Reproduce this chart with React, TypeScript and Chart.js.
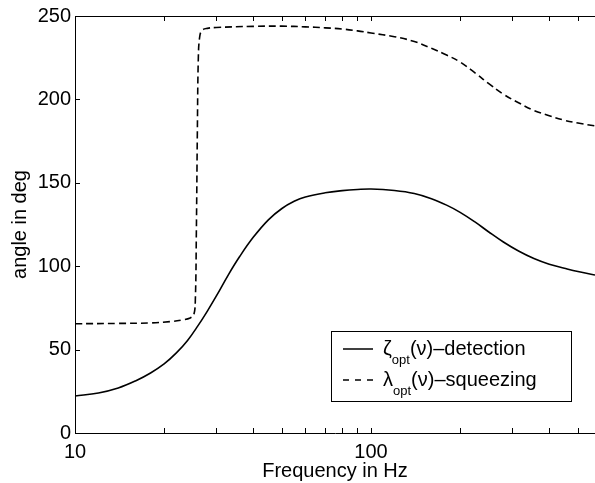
import React, { useEffect, useRef } from "react";
import { Chart, registerables } from "chart.js";

Chart.register(...registerables);

const FONT = "'Liberation Sans', Arial, Helvetica, sans-serif";

const xTickValues = [10, 20, 30, 40, 50, 60, 70, 80, 90, 100, 200, 300, 400, 500];
const xLabeledTicks = [10, 100];
const yTickValues = [0, 50, 100, 150, 200, 250];

const detectionFreq = [10, 12, 14, 16, 18, 20, 22, 24, 26, 28, 30, 33, 36, 40, 45, 50, 55, 60, 70, 80, 90, 100, 120, 140, 160, 180, 200, 225, 250, 280, 315, 355, 400, 450, 500, 571];
const detectionAngle = [22.2, 24.0, 27.0, 31.2, 36.0, 41.4, 48.0, 55.5, 64.2, 73.1, 82.0, 95.0, 105.8, 117.3, 127.8, 134.6, 138.9, 141.5, 144.0, 145.3, 146.0, 146.3, 145.4, 143.6, 140.5, 136.6, 132.3, 126.4, 120.5, 114.5, 109.1, 104.6, 101.2, 98.8, 96.8, 94.7];

const squeezingFreq = [10, 14, 18, 21, 23, 24.5, 25.2, 25.5, 25.7, 25.9, 26.1, 26.4, 26.9, 28, 30, 40, 50, 60, 70, 80, 90, 100, 120, 140, 160, 180, 200, 225, 250, 280, 315, 355, 400, 450, 500, 571];
const squeezingAngle = [65.5, 65.7, 66, 66.8, 67.8, 69, 71, 80, 120, 180, 225, 238, 241.5, 242.6, 243.1, 243.8, 243.9, 243.5, 242.9, 242.2, 241.1, 239.8, 237.6, 234.7, 230.6, 226.6, 222.4, 215.8, 209.4, 203.1, 198.0, 193.4, 190.2, 187.5, 185.8, 184.1];

const legendLabels = [
  { symbol: "\u03B6", sub: "opt", rest: "(\u03BD)\u2013detection", dash: [] as number[] },
  { symbol: "\u03BB", sub: "opt", rest: "(\u03BD)\u2013squeezing", dash: [6, 6] },
];

const framePlugin = {
  id: "frameTicks",
  afterDraw(chart: any) {
    const { ctx, chartArea } = chart;
    const xs = chart.scales.x;
    const ys = chart.scales.y;
    ctx.save();
    ctx.strokeStyle = "#000";
    ctx.lineWidth = 1;
    ctx.setLineDash([]);
    // top frame line
    ctx.beginPath();
    ctx.moveTo(chartArea.left, chartArea.top + 0.5);
    ctx.lineTo(chartArea.right, chartArea.top + 0.5);
    ctx.stroke();
    // inward ticks
    const tl = 5;
    ctx.beginPath();
    for (const v of xTickValues) {
      const px = Math.round(xs.getPixelForValue(v)) + 0.5;
      ctx.moveTo(px, chartArea.bottom);
      ctx.lineTo(px, chartArea.bottom - tl);
      ctx.moveTo(px, chartArea.top);
      ctx.lineTo(px, chartArea.top + tl);
    }
    for (const v of yTickValues) {
      const py = Math.round(ys.getPixelForValue(v)) + 0.5;
      ctx.moveTo(chartArea.left, py);
      ctx.lineTo(chartArea.left + tl, py);
    }
    ctx.stroke();

    // legend
    const bx = chartArea.right - 264;
    const by = chartArea.bottom - 102;
    const bw = 240;
    const bh = 70;
    ctx.fillStyle = "#fff";
    ctx.fillRect(bx, by, bw, bh);
    ctx.strokeRect(bx + 0.5, by + 0.5, bw, bh);
    legendLabels.forEach((item, i) => {
      const rowY = by + 18 + i * 31;
      ctx.beginPath();
      ctx.setLineDash(item.dash);
      ctx.lineWidth = 1.5;
      ctx.moveTo(bx + 12, rowY);
      ctx.lineTo(bx + 42, rowY);
      ctx.stroke();
      ctx.setLineDash([]);
      ctx.fillStyle = "#000";
      ctx.textBaseline = "alphabetic";
      ctx.textAlign = "left";
      let tx = bx + 52;
      const base = rowY + 6;
      ctx.font = `20px ${FONT}`;
      ctx.fillText(item.symbol, tx, base);
      tx += ctx.measureText(item.symbol).width;
      ctx.font = `13px ${FONT}`;
      ctx.fillText(item.sub, tx, base + 9);
      tx += ctx.measureText(item.sub).width;
      ctx.font = `20px ${FONT}`;
      ctx.fillText(item.rest, tx, base);
    });
    ctx.restore();
  },
};

export default function App() {
  const ref = useRef<HTMLCanvasElement | null>(null);
  useEffect(() => {
    if (!ref.current) return;
    const chart = new Chart(ref.current, {
      type: "line",
      data: {
        datasets: [
          {
            label: "detection",
            data: detectionFreq.map((f, i) => ({ x: f, y: detectionAngle[i] })),
            borderColor: "#000",
            borderWidth: 1.6,
            pointRadius: 0,
            tension: 0.4,
            fill: false,
          },
          {
            label: "squeezing",
            data: squeezingFreq.map((f, i) => ({ x: f, y: squeezingAngle[i] })),
            borderColor: "#000",
            borderWidth: 1.6,
            borderDash: [7, 4],
            pointRadius: 0,
            tension: 0.4,
            fill: false,
          },
        ],
      },
      options: {
        animation: false,
        responsive: false,
        devicePixelRatio: 1,
        layout: { padding: { top: 16, right: 0, left: 0, bottom: 0 } },
        plugins: { legend: { display: false }, tooltip: { enabled: false } },
        scales: {
          x: {
            type: "logarithmic",
            min: 10,
            max: 571,
            afterBuildTicks: (scale: any) => {
              scale.ticks = xTickValues.map((v) => ({ value: v }));
            },
            afterFit: (scale: any) => {
              scale.height = 50;
            },
            grid: { display: false, drawTicks: false },
            border: { display: true, color: "#000", width: 1 },
            ticks: {
              autoSkip: false,
              maxRotation: 0,
              padding: 7,
              color: "#000",
              font: { family: FONT, size: 20 },
              callback: (v: any) => (xLabeledTicks.includes(Number(v)) ? String(v) : ""),
            },
            title: {
              display: true,
              text: "Frequency in Hz",
              color: "#000",
              font: { family: FONT, size: 20 },
              padding: { top: 0, bottom: 0 },
            },
          },
          y: {
            type: "linear",
            min: 0,
            max: 250,
            afterBuildTicks: (scale: any) => {
              scale.ticks = yTickValues.map((v) => ({ value: v }));
            },
            afterFit: (scale: any) => {
              scale.width = 75;
            },
            grid: { display: false, drawTicks: false },
            border: { display: true, color: "#000", width: 1 },
            ticks: {
              padding: 4,
              color: "#000",
              font: { family: FONT, size: 20 },
            },
            title: {
              display: true,
              text: "angle in deg",
              color: "#000",
              font: { family: FONT, size: 20 },
              padding: { top: 8, bottom: 0 },
            },
          },
        },
      },
      plugins: [framePlugin],
    });
    return () => chart.destroy();
  }, []);
  return (
    <div style={{ position: "fixed", left: 0, top: 0, width: 595, height: 483, background: "#fff" }}>
      <canvas ref={ref} width={595} height={483} style={{ display: "block" }} />
    </div>
  );
}
